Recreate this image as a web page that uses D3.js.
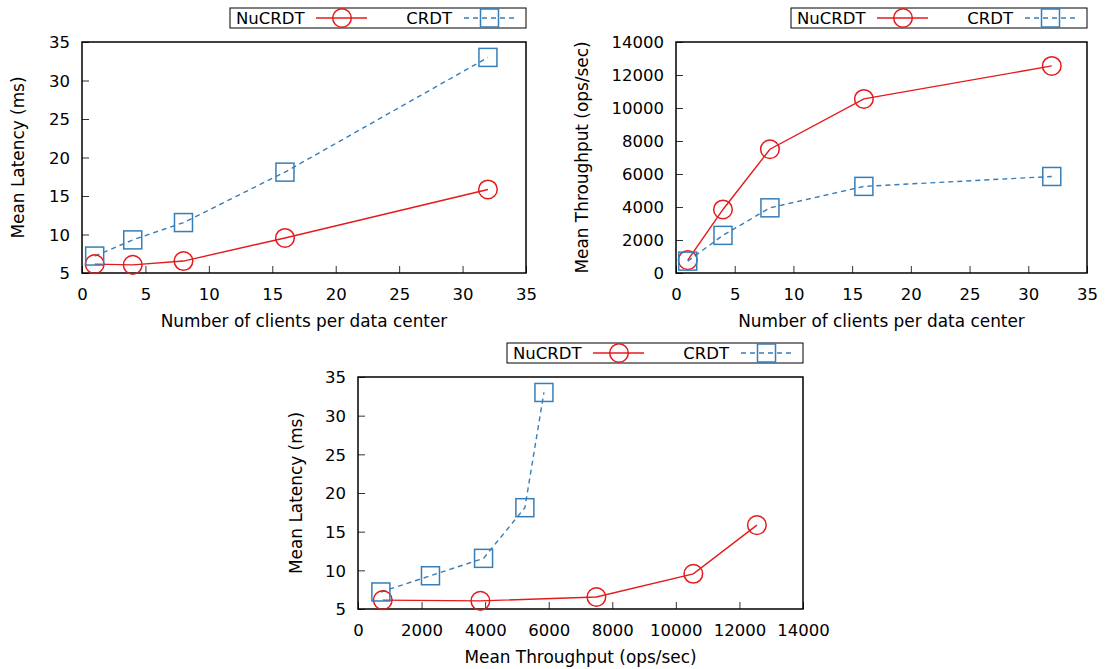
<!DOCTYPE html>
<html>
<head>
<meta charset="utf-8">
<script src="https://cdn.jsdelivr.net/npm/d3@7"></script>
<style>
  body { margin: 0; background: #fff; }
  svg text { font-family: "DejaVu Sans", sans-serif; font-size: 16px; fill: #000; }
</style>
</head>
<body>
<div id="chart"></div>
<script>
// data
var clients = [1, 4, 8, 16, 32];
var nuLatency = [6.15, 6.05, 6.55, 9.55, 15.85];
var crdtLatency = [7.2, 9.3, 11.55, 18.1, 33.0];
var nuThroughput = [780, 3850, 7500, 10550, 12550];
var crdtThroughput = [720, 2280, 3950, 5250, 5850];

var clientTicks = [0, 5, 10, 15, 20, 25, 30, 35];
var latencyTicks = [5, 10, 15, 20, 25, 30, 35];
var throughputTicks = [0, 2000, 4000, 6000, 8000, 10000, 12000, 14000];

var red = "#e41a1c", blue = "#377eb8";

var svg = d3.select("#chart").append("svg")
	.attr("width", 1105)
	.attr("height", 669);

function zip(a, b) {
	return a.map(function(v, i) { return [v, b[i]]; });
}

function makePlot(box, xDomain, yDomain, xTicks, yTicks, xLabel, yLabel, nuData, crdtData) {
	var x = d3.scaleLinear().domain(xDomain).range([box.left, box.right]);
	var y = d3.scaleLinear().domain(yDomain).range([box.bottom, box.top]);
	var g = svg.append("g");

	// axes, ticks pointing inward like gnuplot
	var xAxis = d3.axisBottom(x).tickValues(xTicks).tickFormat(d3.format("d")).tickSize(-7).tickPadding(12);
	var yAxis = d3.axisLeft(y).tickValues(yTicks).tickFormat(d3.format("d")).tickSize(-7).tickPadding(12);
	var gx = g.append("g").attr("transform", "translate(0," + box.bottom + ")").call(xAxis);
	var gy = g.append("g").attr("transform", "translate(" + box.left + ",0)").call(yAxis);
	[gx, gy].forEach(function(a) {
		a.select(".domain").remove();
		a.selectAll(".tick line").attr("stroke", "#333").attr("stroke-width", 1);
		a.selectAll(".tick text").style("font-size", "16.5px").attr("fill", "#000");
	});
	gx.selectAll(".tick text").attr("dy", "0.9em");
	gy.selectAll(".tick text").attr("dy", "0.36em");

	g.append("rect")
		.attr("x", box.left).attr("y", box.top)
		.attr("width", box.right - box.left).attr("height", box.bottom - box.top)
		.attr("fill", "none").attr("stroke", "#000").attr("stroke-width", 1.5);

	g.append("text")
		.attr("x", (box.left + box.right) / 2).attr("y", box.bottom + 54)
		.attr("text-anchor", "middle").style("font-size", "16.9px").text(xLabel);
	g.append("text")
		.attr("transform", "translate(" + box.ylabelX + "," + ((box.top + box.bottom) / 2) + ") rotate(-90)")
		.attr("text-anchor", "middle").attr("dy", "0.35em").style("font-size", "16.9px").text(yLabel);

	var line = d3.line().x(function(d) { return x(d[0]); }).y(function(d) { return y(d[1]); });

	g.append("path").datum(nuData)
		.attr("d", line).attr("fill", "none")
		.attr("stroke", red).attr("stroke-width", 1.4);
	g.append("path").datum(crdtData)
		.attr("d", line).attr("fill", "none")
		.attr("stroke", blue).attr("stroke-width", 1.4).attr("stroke-dasharray", "5,4");

	g.selectAll(".nu").data(nuData).enter().append("circle")
		.attr("cx", function(d) { return x(d[0]); })
		.attr("cy", function(d) { return y(d[1]); })
		.attr("r", 9.3)
		.attr("fill", "none").attr("stroke", red).attr("stroke-width", 1.5);
	g.selectAll(".cr").data(crdtData).enter().append("rect")
		.attr("x", function(d) { return x(d[0]) - 9; })
		.attr("y", function(d) { return y(d[1]) - 9; })
		.attr("width", 18).attr("height", 18)
		.attr("fill", "none").attr("stroke", blue).attr("stroke-width", 1.5);

	// legend box, right aligned with the frame
	var R = box.right, T = box.top - 34;
	var lg = g.append("g");
	lg.append("rect").attr("x", R - 296).attr("y", T).attr("width", 296).attr("height", 20)
		.attr("fill", "none").attr("stroke", "#000").attr("stroke-width", 1);
	lg.append("text").attr("x", R - 290).attr("y", T + 16).style("font-size", "16.5px").text("NuCRDT");
	lg.append("line").attr("x1", R - 210).attr("x2", R - 159).attr("y1", T + 10).attr("y2", T + 10)
		.attr("stroke", red).attr("stroke-width", 1.4);
	lg.append("circle").attr("cx", R - 184).attr("cy", T + 10).attr("r", 9.3)
		.attr("fill", "none").attr("stroke", red).attr("stroke-width", 1.5);
	lg.append("text").attr("x", R - 74).attr("y", T + 16).attr("text-anchor", "end").style("font-size", "16.5px").text("CRDT");
	lg.append("line").attr("x1", R - 62).attr("x2", R - 10).attr("y1", T + 10).attr("y2", T + 10)
		.attr("stroke", blue).attr("stroke-width", 1.4).attr("stroke-dasharray", "5,4");
	lg.append("rect").attr("x", R - 45.5).attr("y", T + 1).attr("width", 18).attr("height", 18)
		.attr("fill", "none").attr("stroke", blue).attr("stroke-width", 1.5);
}

makePlot({left: 82, right: 526, top: 42, bottom: 273, ylabelX: 18},
	[0, 35], [5, 35], clientTicks, latencyTicks,
	"Number of clients per data center", "Mean Latency (ms)",
	zip(clients, nuLatency), zip(clients, crdtLatency));

makePlot({left: 676, right: 1087, top: 42, bottom: 273, ylabelX: 582},
	[0, 35], [0, 14000], clientTicks, throughputTicks,
	"Number of clients per data center", "Mean Throughput (ops/sec)",
	zip(clients, nuThroughput), zip(clients, crdtThroughput));

makePlot({left: 358, right: 803, top: 377, bottom: 609, ylabelX: 296},
	[0, 14000], [5, 35], throughputTicks, latencyTicks,
	"Mean Throughput (ops/sec)", "Mean Latency (ms)",
	zip(nuThroughput, nuLatency), zip(crdtThroughput, crdtLatency));
</script>
</body>
</html>
